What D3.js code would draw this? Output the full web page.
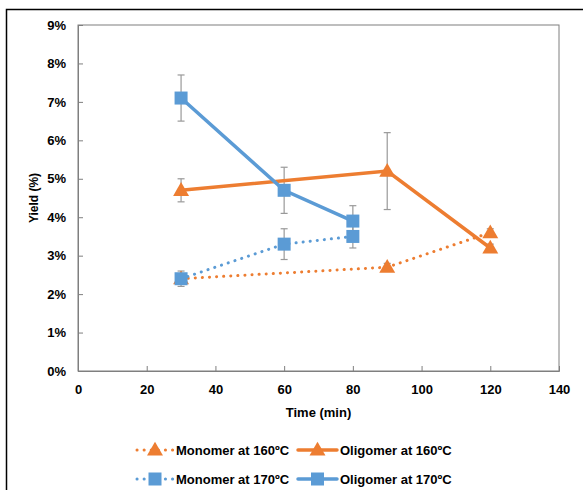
<!DOCTYPE html>
<html>
<head>
<meta charset="utf-8">
<script src="https://cdn.jsdelivr.net/npm/d3@7"></script>
<style>
  body { margin: 0; background: #fff; }
  text { font-family: "Liberation Sans", Arial, sans-serif; font-weight: bold; }
</style>
</head>
<body>
<div id="chart"></div>
<script>
// data
const monomer160 = [ {t: 30, y: 2.4, e: 0.1}, {t: 90, y: 2.7, e: 0.1}, {t: 120, y: 3.6, e: 0.1} ];
const oligomer160 = [ {t: 30, y: 4.7, e: 0.3}, {t: 90, y: 5.2, e: 1.0}, {t: 120, y: 3.2, e: 0.1} ];
const monomer170 = [ {t: 30, y: 2.4, e: 0.2}, {t: 60, y: 3.3, e: 0.4}, {t: 80, y: 3.5, e: 0.3} ];
const oligomer170 = [ {t: 30, y: 7.1, e: 0.6}, {t: 60, y: 4.7, e: 0.6}, {t: 80, y: 3.9, e: 0.4} ];
const xTicks = [0, 20, 40, 60, 80, 100, 120, 140];
const yTicks = [0, 1, 2, 3, 4, 5, 6, 7, 8, 9];

const series = [
  {name: 'Monomer at 160ºC', data: monomer160, color: '#ED7D31', dotted: true, shape: 'tri'},
  {name: 'Oligomer at 160ºC', data: oligomer160, color: '#ED7D31', dotted: false, shape: 'tri'},
  {name: 'Monomer at 170ºC', data: monomer170, color: '#5B9BD5', dotted: true, shape: 'sq'},
  {name: 'Oligomer at 170ºC', data: oligomer170, color: '#5B9BD5', dotted: false, shape: 'sq'}
];

const width = 583;
const height = 490;
const svg = d3.select('#chart').append('svg')
  .attr('width', width)
  .attr('height', height);

// outer frame
svg.append('rect')
  .attr('x', 6.5).attr('y', 9.5)
  .attr('width', 620).attr('height', 520)
  .attr('fill', 'none').attr('stroke', '#000').attr('stroke-width', 1.5);

const pLeft = 78, pRight = 559, pTop = 25, pBottom = 371;
const x = d3.scaleLinear().domain([0, 140]).range([pLeft, pRight]);
const y = d3.scaleLinear().domain([0, 9]).range([pBottom, pTop]);

// plot area border
svg.append('rect')
  .attr('x', pLeft).attr('y', pTop)
  .attr('width', pRight - pLeft).attr('height', pBottom - pTop)
  .attr('fill', 'none').attr('stroke', '#7f7f7f').attr('stroke-width', 1);

const xAxis = svg.append('g')
  .attr('transform', `translate(0,${pBottom})`)
  .call(d3.axisBottom(x).tickValues(xTicks).tickSize(-5).tickPadding(14));
const yAxis = svg.append('g')
  .attr('transform', `translate(${pLeft},0)`)
  .call(d3.axisLeft(y).tickValues(yTicks).tickSize(-5).tickPadding(12)
    .tickFormat(d => d + '%'));
[xAxis, yAxis].forEach(g => {
  g.select('.domain').attr('stroke', '#7f7f7f');
  g.selectAll('.tick line').attr('stroke', '#7f7f7f');
  g.selectAll('.tick text').attr('fill', '#000').style('font-size', '13px')
    .style('font-family', '"Liberation Sans", Arial, sans-serif').style('font-weight', 'bold');
});

// axis titles
svg.append('text')
  .attr('x', (pLeft + pRight) / 2).attr('y', 417)
  .attr('text-anchor', 'middle').style('font-size', '13px')
  .text('Time (min)');
svg.append('text')
  .attr('transform', `translate(38,${(pTop + pBottom) / 2}) rotate(-90)`)
  .attr('text-anchor', 'middle').style('font-size', '12px')
  .text('Yield (%)');

const line = d3.line().x(d => x(d.t)).y(d => y(d.y));

const triangle = d3.symbol().type(d3.symbolTriangle).size(110);

function drawMarker(g, cx, cy, s) {
  if (s.shape === 'sq') {
    g.append('rect')
      .attr('x', cx - 6.5).attr('y', cy - 6.5)
      .attr('width', 13).attr('height', 13)
      .attr('fill', s.color);
  } else {
    g.append('path')
      .attr('d', triangle())
      .attr('transform', `translate(${cx},${cy + 1})`)
      .attr('fill', s.color);
  }
}

// error bars first
series.forEach(s => {
  const eb = svg.append('g').attr('stroke', '#999').attr('stroke-width', 1.2);
  s.data.forEach(d => {
    eb.append('line')
      .attr('x1', x(d.t)).attr('x2', x(d.t))
      .attr('y1', y(d.y + d.e)).attr('y2', y(d.y - d.e));
    [d.y + d.e, d.y - d.e].forEach(v => {
      eb.append('line')
        .attr('x1', x(d.t) - 3.5).attr('x2', x(d.t) + 3.5)
        .attr('y1', y(v)).attr('y2', y(v));
    });
  });
});

series.forEach(s => {
  svg.append('path')
    .datum(s.data)
    .attr('d', line)
    .attr('fill', 'none')
    .attr('stroke', s.color)
    .attr('stroke-width', s.dotted ? 3 : 3.5)
    .attr('stroke-linecap', 'round')
    .attr('stroke-dasharray', s.dotted ? '0.1 7' : null);
  const mg = svg.append('g');
  s.data.forEach(d => drawMarker(mg, x(d.t), y(d.y), s));
});

// legend
const legendPos = [
  {lx: 137, ly: 450, tx: 176},
  {lx: 298, ly: 450, tx: 340},
  {lx: 137, ly: 479, tx: 176},
  {lx: 298, ly: 479, tx: 340}
];
series.forEach((s, i) => {
  const p = legendPos[i];
  const g = svg.append('g');
  g.append('line')
    .attr('x1', p.lx).attr('x2', p.tx - 3)
    .attr('y1', p.ly).attr('y2', p.ly)
    .attr('stroke', s.color)
    .attr('stroke-width', s.dotted ? 3 : 3.5)
    .attr('stroke-linecap', 'round')
    .attr('stroke-dasharray', s.dotted ? '0.1 7' : null);
  drawMarker(g, (p.lx + p.tx - 3) / 2, p.ly, s);
  g.append('text')
    .attr('x', p.tx).attr('y', p.ly + 5)
    .style('font-size', '13px')
    .text(s.name);
});
</script>
</body>
</html>
